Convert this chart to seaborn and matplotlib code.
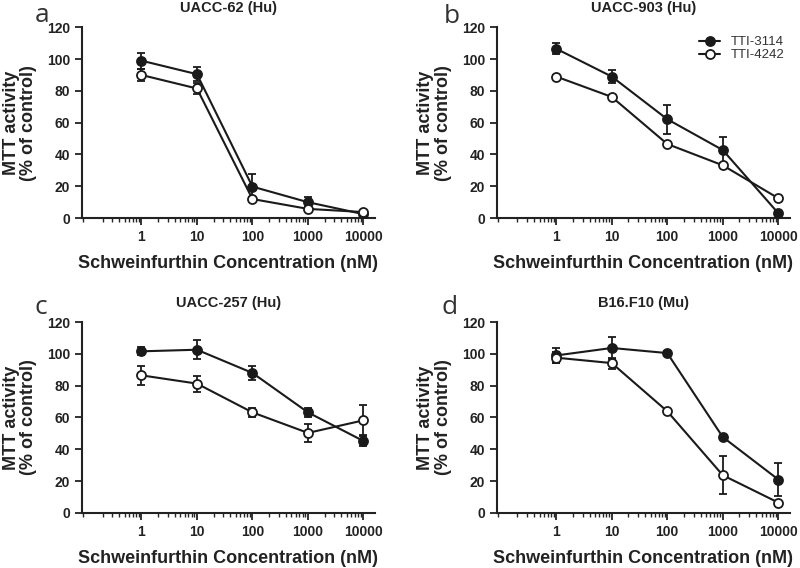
import matplotlib
matplotlib.use("Agg")
import matplotlib.pyplot as plt
import matplotlib.ticker as mticker
import seaborn as sns
import pandas as pd

conc = [1, 10, 100, 1000, 10000]

titles = ["UACC-62 (Hu)", "UACC-903 (Hu)", "UACC-257 (Hu)", "B16.F10 (Mu)"]
letters = ["a", "b", "c", "d"]

# TTI-3114 (filled circles)
tti3114 = [
    [99, 90.5, 19.8, 10, 2.5],
    [106.5, 89, 62.2, 42.8, 3.1],
    [101.6, 102.6, 88, 63.2, 45.2],
    [99, 103.7, 100.5, 47.7, 21],
]
tti3114_err = [
    [5, 4.5, 8, 3.5, 1],
    [3.5, 4, 9, 8, 1],
    [2.5, 6, 4.5, 3, 3],
    [4.5, 7, 1, 1, 10.5],
]

# TTI-4242 (open circles)
tti4242 = [
    [90, 81.5, 12, 5.8, 3.8],
    [89, 76.2, 46.6, 33.2, 12.5],
    [86.5, 81.3, 63.2, 50.3, 58.2],
    [97.6, 94.2, 63.9, 23.7, 6.5],
]
tti4242_err = [
    [3.5, 3.5, 1, 1, 0.5],
    [1, 1, 1, 1, 1],
    [6, 5, 3, 5.5, 9.5],
    [3.5, 3.5, 1, 11.8, 1],
]

sns.set_style("ticks")
plt.rcParams["font.family"] = ["Liberation Sans", "DejaVu Sans"]

fig = plt.figure(figsize=(8, 5.68), dpi=100)
positions = [
    [0.1025, 0.616, 0.366, 0.336],
    [0.621, 0.616, 0.366, 0.336],
    [0.1025, 0.097, 0.366, 0.336],
    [0.621, 0.097, 0.366, 0.336],
]
letter_pos = [(-0.135, 1.03), (-0.155, 1.02), (-0.14, 1.04), (-0.16, 1.04)]

for i in range(4):
    ax = fig.add_axes(positions[i])
    df = pd.DataFrame({
        "conc": conc * 2,
        "value": tti3114[i] + tti4242[i],
        "compound": ["TTI-3114"] * 5 + ["TTI-4242"] * 5,
    })
    for name, vals, errs, face in [("TTI-3114", tti3114[i], tti3114_err[i], "#1a1a1a"),
                                   ("TTI-4242", tti4242[i], tti4242_err[i], "white")]:
        sub = df[df["compound"] == name]
        ax.errorbar(sub["conc"], sub["value"], yerr=errs, fmt="none",
                    ecolor="#1a1a1a", elinewidth=1.3, capsize=3, capthick=1.3, zorder=2)
        sns.lineplot(data=sub, x="conc", y="value", ax=ax, color="#1a1a1a",
                     linewidth=1.5, marker="o", markersize=6.5,
                     markerfacecolor=face, markeredgecolor="#1a1a1a",
                     markeredgewidth=1.3, label=name, zorder=3)

    ax.set_xscale("log")
    ax.set_xlim(0.085, 16000)
    ax.set_ylim(0, 120)
    ax.set_xticks(conc)
    ax.xaxis.set_major_formatter(mticker.FixedFormatter([str(c) for c in conc]))
    ax.xaxis.set_minor_locator(mticker.LogLocator(base=10, subs=range(2, 10), numticks=20))
    ax.xaxis.set_minor_formatter(mticker.NullFormatter())
    ax.set_yticks(range(0, 121, 20))
    ax.tick_params(axis="both", which="major", direction="out", length=5, width=1.3,
                   labelsize=10, colors="#222222")
    ax.tick_params(axis="x", which="minor", direction="out", length=3, width=1)
    for lab in ax.get_xticklabels() + ax.get_yticklabels():
        lab.set_fontweight("bold")
    for side in ["left", "bottom"]:
        ax.spines[side].set_linewidth(1.5)
        ax.spines[side].set_color("#222222")
    sns.despine(ax=ax)

    ax.set_xlabel("Schweinfurthin Concentration (nM)", fontsize=13,
                  fontweight="bold", color="#222222", labelpad=8)
    ax.set_ylabel("MTT activity\n(% of control)", fontsize=13,
                  fontweight="bold", color="#222222", labelpad=7, linespacing=1.05)
    ax.set_title(titles[i], fontsize=10.5, fontweight="bold", color="#222222", pad=11)
    lx, ly = letter_pos[i]
    ax.text(lx, ly, letters[i], transform=ax.transAxes, fontsize=19,
            color="#333333", ha="center", va="baseline",
            family=["Open Sans", "DejaVu Sans"])

    if i == 1:
        leg = ax.legend(loc="upper right", bbox_to_anchor=(1.01, 0.995), frameon=False,
                        fontsize=9.5, handlelength=1.6, labelspacing=0.05,
                        handletextpad=0.8, borderaxespad=0.2)
        for t in leg.get_texts():
            t.set_color("#333333")
    else:
        ax.get_legend().remove()

fig.savefig("out.png", dpi=100)
